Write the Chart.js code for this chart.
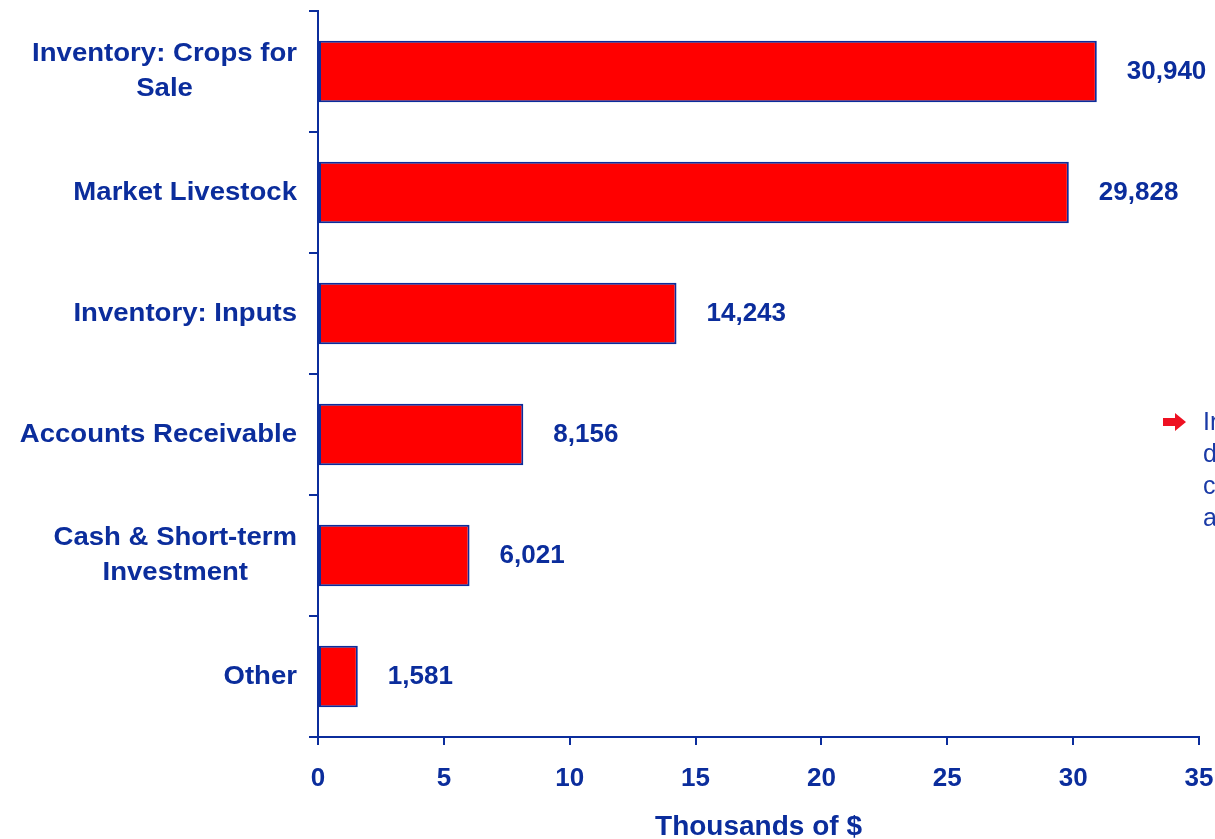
<!DOCTYPE html>
<html>
<head>
<meta charset="utf-8">
<script src="https://cdn.jsdelivr.net/npm/chart.js@4.4.0/dist/chart.umd.min.js"></script>
<style>
  html, body { margin: 0; padding: 0; background: #fff; overflow: hidden; }
  #wrap { position: relative; width: 1215px; height: 839px; }
  #note {
    position: absolute; left: 1163px; top: 405px;
    font-family: "Liberation Sans", Arial, sans-serif; font-size: 25px;
    line-height: 32px; color: #1a3aa6; white-space: nowrap;
  }
  #note svg { position: absolute; left: 0; top: 8px; }
  #note div { margin-left: 40px; }
</style>
</head>
<body>
<div id="wrap">
  <canvas id="chart" width="1215" height="839"></canvas>
  <div id="note">
    <svg width="24" height="18" viewBox="0 0 24 18"><path d="M0 5 H12 V0 L23 9 L12 18 V13 H0 Z" fill="#ee1122"/></svg>
    <div>Inventories</div>
    <div>dominate</div>
    <div>current</div>
    <div>assets</div>
  </div>
</div>
<script>
const categories = [
    ['Inventory: Crops for', 'Sale'],
    ['Market Livestock'],
    ['Inventory: Inputs'],
    ['Accounts Receivable'],
    ['Cash & Short-term', 'Investment'],
    ['Other']
];
const values = [30940, 29828, 14243, 8156, 6021, 1581];
const xTicks = [0, 5, 10, 15, 20, 25, 30, 35];

const navy = '#0b2d9c';
const family = '"Liberation Sans", Arial, sans-serif';

// category names and value labels drawn next to the axis / bar ends
const labelPlugin = {
    id: 'labels',
    afterDatasetsDraw(chart) {
        const ctx = chart.ctx;
        const yScale = chart.scales.y;
        const meta = chart.getDatasetMeta(0);
        const sx = 1.06;
        ctx.save();
        ctx.fillStyle = navy;
        ctx.textBaseline = 'middle';
        categories.forEach((lines, i) => {
            const cy = yScale.getPixelForValue(i);
            ctx.font = 'bold 26px ' + family;
            const w = Math.max(...lines.map(l => ctx.measureText(l).width)) * sx;
            const cx = yScale.right - 21 - w / 2;
            ctx.textAlign = 'center';
            lines.forEach((l, j) => {
                ctx.save();
                ctx.translate(cx, cy + (j - (lines.length - 1) / 2) * 35);
                ctx.scale(sx, 1);
                ctx.fillText(l, 0, 0);
                ctx.restore();
            });
            const bar = meta.data[i];
            ctx.textAlign = 'left';
            ctx.fillText(values[i].toLocaleString('en-US'), bar.x + 30, bar.y);
        });
        ctx.restore();
    }
};

new Chart(document.getElementById('chart'), {
    type: 'bar',
    data: {
        labels: categories.map(c => c.join(' ')),
        datasets: [{
            data: values.map(v => v / 1000),
            backgroundColor: '#ff0000',
            borderColor: navy,
            borderWidth: 2,
            borderSkipped: false,
            categoryPercentage: 1,
            barPercentage: 0.51
        }]
    },
    options: {
        indexAxis: 'y',
        responsive: false,
        animation: false,
        layout: { padding: { top: 11, right: 16, left: 0, bottom: 0 } },
        plugins: { legend: { display: false }, tooltip: { enabled: false } },
        scales: {
            x: {
                min: 0,
                max: 35,
                afterBuildTicks: s => { s.ticks = xTicks.map(v => ({ value: v })); },
                afterFit: s => { s.height = 102; s.paddingRight = 0; s.paddingLeft = 0; },
                grid: { drawOnChartArea: false, color: navy, lineWidth: 2, tickLength: 8 },
                border: { color: navy, width: 2 },
                ticks: { color: navy, font: { family, size: 26, weight: 'bold' }, padding: 18, maxRotation: 0 },
                title: {
                    display: true,
                    text: 'Thousands of $',
                    color: navy,
                    font: { family, size: 28, weight: 'bold', lineHeight: 0.85 },
                    padding: { top: 0, bottom: 0 }
                }
            },
            y: {
                afterFit: s => { s.width = 318; },
                grid: { drawOnChartArea: false, color: navy, lineWidth: 2, tickLength: 9, offset: true },
                border: { color: navy, width: 2 },
                ticks: { display: false }
            }
        }
    },
    plugins: [labelPlugin]
});
</script>
</body>
</html>
